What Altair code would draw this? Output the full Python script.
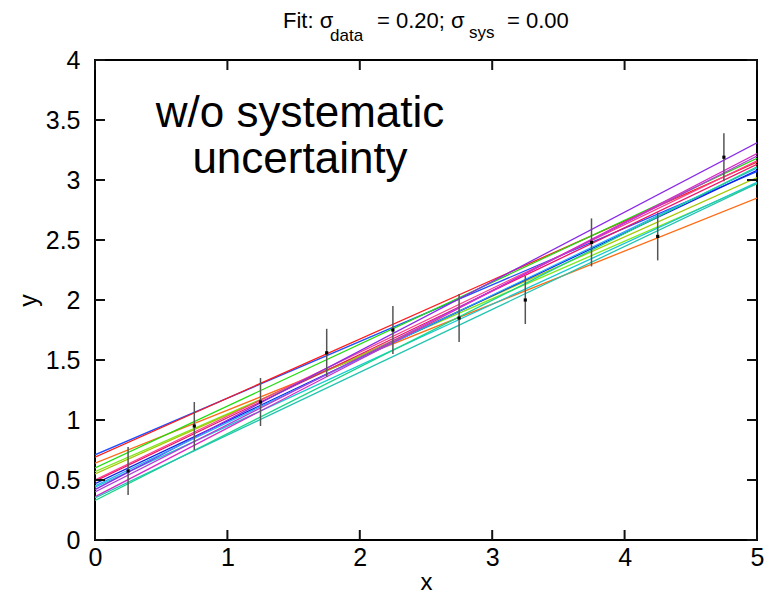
import altair as alt
import pandas as pd

# measured data points (x, y) with symmetric uncertainty
x_data = [0.25, 0.75, 1.25, 1.75, 2.25, 2.75, 3.25, 3.75, 4.25, 4.75]
y_data = [0.575, 0.95, 1.15, 1.56, 1.75, 1.85, 2.0, 2.48, 2.53, 3.19]
sigma_data = 0.20

# fitted lines: value at x=0 and at x=5, colour of each
fit_ids = ["f01", "f02", "f03", "f04", "f05", "f06", "f07", "f08",
           "f09", "f10", "f11", "f12", "f13", "f14", "f15", "f16"]
fit_y0 = [0.71, 0.69, 0.64, 0.60, 0.57, 0.55, 0.50, 0.49,
          0.47, 0.44, 0.42, 0.45, 0.40, 0.36, 0.33, 0.35]
fit_y5 = [3.07, 3.15, 2.85, 3.18, 2.97, 3.02, 3.16, 3.13,
          3.08, 2.98, 3.31, 3.10, 3.20, 3.22, 3.11, 2.97]
fit_colors = ["#1f4fff", "#ff1a1a", "#ff6a13", "#22dd11", "#7ee81b", "#a6c800",
              "#ff3d8a", "#ee1166", "#0a1fe6", "#15c8d2", "#8a2be8", "#2aa8ff",
              "#b03cd8", "#d42bc8", "#19d68a", "#22c4b0"]
fit_x_ends = [0.0, 5.0]

x_ticks = [0, 1, 2, 3, 4, 5]
y_ticks = [0, 0.5, 1, 1.5, 2, 2.5, 3, 3.5, 4]
X_MIN, X_MAX = 0, 5
Y_MIN, Y_MAX = 0, 4

FONT = "Liberation Sans"
W, H = 662, 480
TICK = 10  # tick length in pixels

rows = []
for fid, a, b in zip(fit_ids, fit_y0, fit_y5):
    rows.append({"id": fid, "x": fit_x_ends[0], "y": a})
    rows.append({"id": fid, "x": fit_x_ends[1], "y": b})
lines_df = pd.DataFrame(rows)

pts_df = pd.DataFrame({
    "x": x_data,
    "y": y_data,
    "lo": [v - sigma_data for v in y_data],
    "hi": [v + sigma_data for v in y_data],
})
xt_df = pd.DataFrame({"x": x_ticks})
yt_df = pd.DataFrame({"y": y_ticks})

xscale = alt.Scale(domain=[X_MIN, X_MAX], nice=False, zero=False)
yscale = alt.Scale(domain=[Y_MIN, Y_MAX], nice=False, zero=False)

x_bottom = alt.Axis(values=x_ticks, title="x", format="~g", labelFontSize=25,
                    labelFont=FONT, labelColor="black", labelPadding=5,
                    titleFont=FONT, titleFontSize=24, titleFontWeight="normal",
                    titleColor="black", titlePadding=0, labelFlush=False,
                    ticks=False, domain=False, grid=False)
y_left = alt.Axis(values=y_ticks, title="y", format="~g", labelFontSize=25,
                  labelFont=FONT, labelColor="black", labelPadding=15,
                  titleFont=FONT, titleFontSize=25, titleFontWeight="normal",
                  titleColor="black", titlePadding=4, labelFlush=False,
                  ticks=False, domain=False, grid=False)

lines = alt.Chart(lines_df).mark_line(strokeWidth=1.3, clip=True).encode(
    x=alt.X("x:Q", scale=xscale, axis=x_bottom),
    y=alt.Y("y:Q", scale=yscale, axis=y_left),
    color=alt.Color("id:N", scale=alt.Scale(domain=fit_ids, range=fit_colors), legend=None),
    detail="id:N",
)

errbars = alt.Chart(pts_df).mark_rule(color="#555555", strokeWidth=1.5).encode(
    x=alt.X("x:Q", scale=xscale),
    y=alt.Y("lo:Q", scale=yscale),
    y2="hi:Q",
)

points = alt.Chart(pts_df).mark_point(shape="square", filled=True, size=10,
                                      color="black", opacity=1).encode(
    x=alt.X("x:Q", scale=xscale),
    y=alt.Y("y:Q", scale=yscale),
)

# inward ticks on all four sides, drawn as tick marks on top of everything
tick_style = dict(color="#111111", thickness=2, size=TICK, opacity=1)
ticks_bottom = alt.Chart(xt_df).mark_tick(orient="vertical", **tick_style).encode(
    x=alt.X("x:Q", scale=xscale), y=alt.value(H - TICK / 2))
ticks_top = alt.Chart(xt_df).mark_tick(orient="vertical", **tick_style).encode(
    x=alt.X("x:Q", scale=xscale), y=alt.value(TICK / 2))
ticks_left = alt.Chart(yt_df).mark_tick(orient="horizontal", **tick_style).encode(
    y=alt.Y("y:Q", scale=yscale), x=alt.value(TICK / 2))
ticks_right = alt.Chart(yt_df).mark_tick(orient="horizontal", **tick_style).encode(
    y=alt.Y("y:Q", scale=yscale), x=alt.value(W - TICK / 2))

note = alt.Chart(pd.DataFrame({"t": [0]})).mark_text(
    font=FONT, fontSize=44, align="center", baseline="alphabetic",
    lineHeight=46, color="black",
).encode(
    x=alt.value(205), y=alt.value(67),
    text=alt.value(["w/o systematic", "uncertainty"]),
)

# title pieces with subscripts
title_parts = ["Fit: σ", "data", "= 0.20; σ", "sys", "= 0.00"]
title_x = [188, 235, 282, 374, 412]
title_y = [-32, -19, -32, -22, -32]
title_size = [22, 17, 22, 17, 22]

title_layers = []
for t, px, py, fs in zip(title_parts, title_x, title_y, title_size):
    title_layers.append(
        alt.Chart(pd.DataFrame({"t": [t]})).mark_text(
            font=FONT, fontSize=fs, align="left", baseline="alphabetic", color="black"
        ).encode(x=alt.value(px), y=alt.value(py), text="t:N")
    )

chart = alt.layer(
    lines, errbars, points, note, *title_layers,
    ticks_bottom, ticks_top, ticks_left, ticks_right,
).properties(
    width=W, height=H,
    autosize=alt.AutoSizeParams(type="none"),
    padding={"left": 95, "top": 60, "right": 13, "bottom": 55},
    background="white",
).configure_view(stroke="black", strokeWidth=2)

chart.save("out.html", embed_options={"renderer": "svg", "actions": False})
